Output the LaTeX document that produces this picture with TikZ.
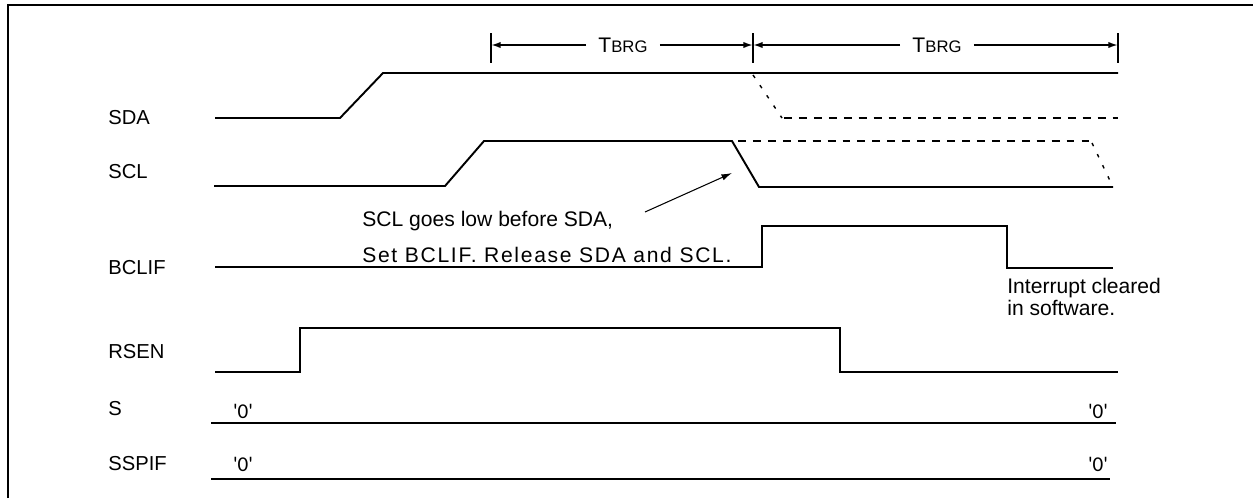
\documentclass[tikz,border=0pt]{standalone}
\usepackage{fontspec}
\setmainfont{Liberation Sans}
\newfontfamily\zerofont{Carlito}
\usetikzlibrary{arrows.meta}
\begin{document}
\begin{tikzpicture}[x=0.02cm,y=-0.02cm,
  frame/.style={line width=1.7pt},
  sig/.style={line width=1.1pt, line join=miter},
  ghost/.style={line width=1.1pt, dash pattern=on 4.5pt off 4pt},
  ghostslope/.style={line width=0.8pt, dash pattern=on 2pt off 5pt},
  bar/.style={line width=1.1pt},
  dim/.style={line width=1pt, -{Latex[length=5.5pt,width=3.6pt]}},
  callout/.style={line width=0.6pt, -{Latex[length=6pt,width=3.6pt]}},
  lbl/.style={anchor=west, inner sep=0pt, font=\fontsize{11.5}{13}\selectfont},
  note/.style={anchor=west, inner sep=0pt, align=left, font=\fontsize{12}{21}\selectfont},
  note2/.style={anchor=west, inner sep=0pt, align=left, font=\fontsize{12}{12.5}\selectfont},
  zero/.style={inner sep=0pt, font=\zerofont\fontsize{12}{14}\selectfont},
  tb/.style={inner sep=0pt, font=\fontsize{12}{14}\selectfont}]
\useasboundingbox (0,0) rectangle (1253,498);
% frame
\draw[frame] (8,498) -- (8,5) -- (1253,5);
% labels
\node[lbl] (lsda) at (108,118) {SDA};
\node[lbl] (lscl) at (108,172) {SCL};
\node[lbl] (lbclif) at (108,268) {BCLIF};
\node[lbl] (lrsen) at (108,352) {RSEN};
\node[lbl] (ls) at (108,409) {S};
\node[lbl] (lsspif) at (108,464) {SSPIF};
% TBRG dimension
\coordinate (b1t) at (491,33); \coordinate (b1b) at (491,63);
\coordinate (b2t) at (753,33); \coordinate (b2b) at (753,63);
\coordinate (b3t) at (1118,33); \coordinate (b3b) at (1118,63);
\draw[bar] (b1t) -- (b1b);
\draw[bar] (b2t) -- (b2b);
\draw[bar] (b3t) -- (b3b);
\node[tb] (t1) at (623,45) {T{\fontsize{9.5}{10}\selectfont BRG}};
\node[tb] (t2) at (937,45) {T{\fontsize{9.5}{10}\selectfont BRG}};
\coordinate (a1l) at (491,45); \coordinate (a1r) at (753,45);
\coordinate (a2l) at (753,45); \coordinate (a2r) at (1118,45);
\draw[dim] (t1.west) ++(-12,0) -- (a1l);
\draw[dim] (t1.east) ++(12,0) -- (a1r);
\draw[dim] (t2.west) ++(-12,0) -- (a2l);
\draw[dim] (t2.east) ++(12,0) -- (a2r);
% SDA
\draw[sig] (215,118) -- (340,118) -- (383,73) -- (1118,73);
\draw[ghostslope] (753,75) -- (782,118);
\draw[ghost] (784,118) -- (1118,118);
% SCL
\draw[sig] (214,186) -- (445,186) -- (484,141) -- (732,141) -- (759,187) -- (1113,187);
\draw[ghost] (738,141) -- (1090,141);
\draw[ghostslope] (1092,143) -- (1113,187);
% BCLIF
\draw[sig] (215,267) -- (762,267) -- (762,226) -- (1007,226) -- (1007,268) -- (1113,268);
% RSEN
\draw[sig] (215,372) -- (300,372) -- (300,328) -- (840,328) -- (840,372) -- (1118,372);
% S
\draw[sig] (211,423) -- (1116,423);
\node[zero] (s0a) at (243,411) {'0'};
\node[zero] (s0b) at (1098,411) {'0'};
% SSPIF
\draw[sig] (211,479) -- (1110,479);
\node[zero] (p0a) at (243,464) {'0'};
\node[zero] (p0b) at (1098,464) {'0'};
% annotation
\node[note] (n1) at (362,237) {SCL goes low before SDA,\\{\addfontfeature{LetterSpace=8}Set BCLIF. Release SDA and SCL.}};
\coordinate (tip) at (732,173);
\draw[callout] (645,212) -- (tip);
\node[note2] (n2) at (1007,297) {Interrupt cleared\\in software.};
\end{tikzpicture}
\end{document}
